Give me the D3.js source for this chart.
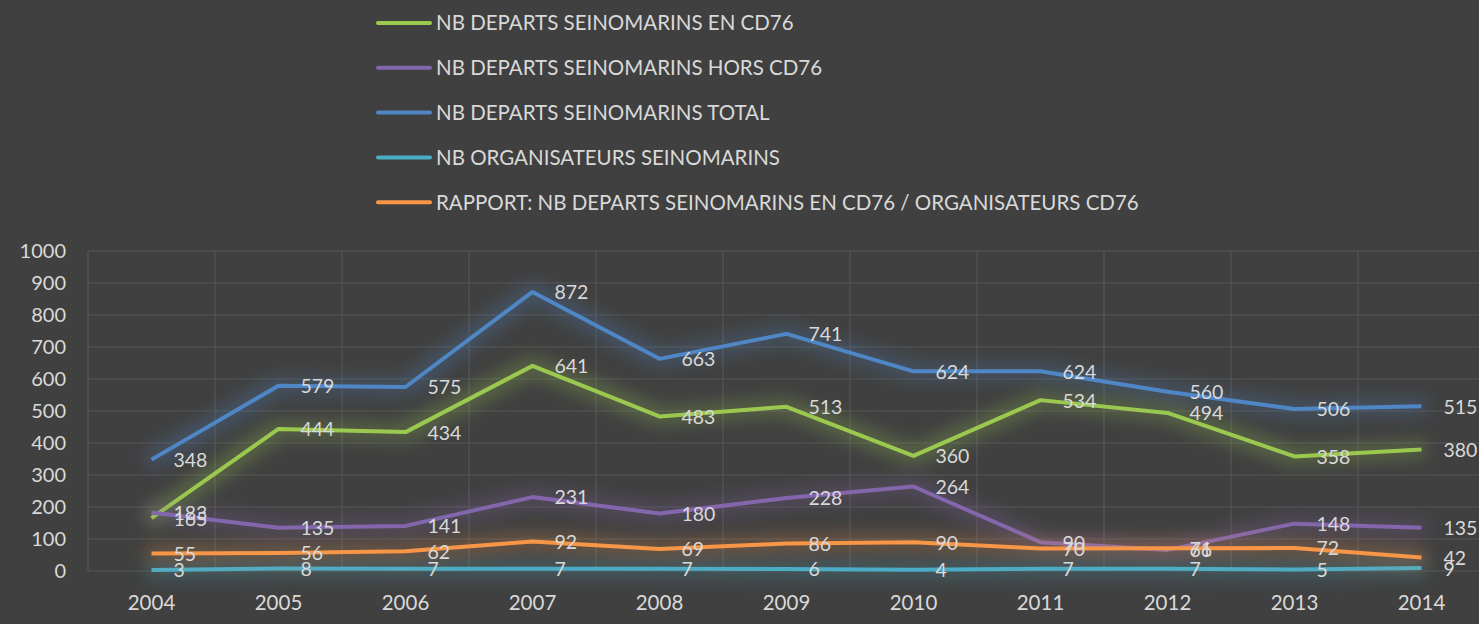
<!DOCTYPE html>
<html><head><meta charset="utf-8">
<script src="https://cdn.jsdelivr.net/npm/d3@7"></script>
<style>
html,body{margin:0;padding:0;background:#404040;}
svg{display:block;}
text{font-family:Lato,"Open Sans",sans-serif;}
</style></head>
<body>
<svg id="chart" width="1479" height="624"></svg>
<script>
const years = ["2004","2005","2006","2007","2008","2009","2010","2011","2012","2013","2014"];
const enCD76 = [165,444,434,641,483,513,360,534,494,358,380];
const horsCD76 = [183,135,141,231,180,228,264,90,66,148,135];
const total = [348,579,575,872,663,741,624,624,560,506,515];
const organisateurs = [3,8,7,7,7,6,4,7,7,5,9];
const rapport = [55,56,62,92,69,86,90,70,71,72,42];
const yTicks = [0,100,200,300,400,500,600,700,800,900,1000];

const seriesNames = [
  "NB DEPARTS SEINOMARINS EN CD76",
  "NB DEPARTS SEINOMARINS HORS CD76",
  "NB DEPARTS SEINOMARINS TOTAL",
  "NB ORGANISATEURS SEINOMARINS",
  "RAPPORT: NB DEPARTS SEINOMARINS EN CD76 / ORGANISATEURS CD76"
];
const seriesValues = [enCD76, horsCD76, total, organisateurs, rapport];
const seriesColors = ["#9bc94f","#8466ac","#4f86c6","#4bacc6","#f79646"];

const svg = d3.select("#chart");
const W = 1479, H = 624;
svg.append("rect").attr("width",W).attr("height",H).attr("fill","#404040");

const left = 88, step = 127;
const x = d3.scaleBand().domain(years).range([left, left + step*years.length]).paddingInner(0).paddingOuter(0);
const y = d3.scaleLinear().domain([0,1000]).range([571,251]);

const defs = svg.append("defs");
seriesColors.forEach((c,i)=>{
  const f = defs.append("filter").attr("id","glow"+i)
    .attr("filterUnits","userSpaceOnUse")
    .attr("x",0).attr("y",0).attr("width",W).attr("height",H);
  f.append("feMorphology").attr("in","SourceGraphic").attr("operator","dilate").attr("radius",5).attr("result","d");
  f.append("feGaussianBlur").attr("in","d").attr("stdDeviation",9).attr("result","b");
  f.append("feComponentTransfer").attr("in","b").attr("result","bo")
    .append("feFuncA").attr("type","linear").attr("slope",0.32);
  const m = f.append("feMerge");
  m.append("feMergeNode").attr("in","bo");
  m.append("feMergeNode").attr("in","SourceGraphic");
});

// gridlines
const g = svg.append("g");
g.selectAll(".hg").data(yTicks).join("line")
  .attr("x1",left).attr("x2",W).attr("y1",d=>y(d)).attr("y2",d=>y(d))
  .attr("stroke","#555555").attr("stroke-width",1.2);
g.selectAll(".vg").data(years).join("line")
  .attr("x1",d=>x(d)).attr("x2",d=>x(d)).attr("y1",y(1000)).attr("y2",y(0))
  .attr("stroke","#555555").attr("stroke-width",1.2);

// axes labels
svg.append("g").selectAll("text").data(yTicks).join("text")
  .attr("x",66).attr("y",d=>y(d)).attr("dy","0.35em").attr("text-anchor","end")
  .attr("fill","#d9d9d9").attr("font-size",20).text(d=>d);
svg.append("g").selectAll("text").data(years).join("text")
  .attr("x",d=>x(d)+x.bandwidth()/2).attr("y",610).attr("text-anchor","middle")
  .attr("fill","#d9d9d9").attr("font-size",20.5).text(d=>d);

// lines
const line = d3.line().x((d,i)=>x(years[i])+x.bandwidth()/2).y(d=>y(d));
seriesValues.forEach((vals,i)=>{
  svg.append("path").datum(vals).attr("d",line).attr("fill","none")
    .attr("stroke",seriesColors[i]).attr("stroke-width",4).attr("stroke-linejoin","round")
    .attr("filter","url(#glow"+i+")");
});
// data labels
seriesValues.forEach((vals,i)=>{
  svg.append("g").selectAll("text").data(vals).join("text")
    .attr("x",(d,j)=>x(years[j])+x.bandwidth()/2+22)
    .attr("y",d=>y(d)).attr("dy","0.38em")
    .attr("fill","#d9d9d9").attr("font-size",19.5).text(d=>d);
});

// legend
const lg = svg.append("g");
seriesNames.forEach((n,i)=>{
  const yy = 23 + i*44.8;
  lg.append("line").attr("x1",378).attr("x2",430).attr("y1",yy).attr("y2",yy)
    .attr("stroke",seriesColors[i]).attr("stroke-width",4).attr("stroke-linecap","round");
  lg.append("text").attr("x",436).attr("y",yy).attr("dy","0.36em")
    .attr("fill","#d9d9d9").attr("font-size",20.5).text(n);
});
</script>
</body></html>
